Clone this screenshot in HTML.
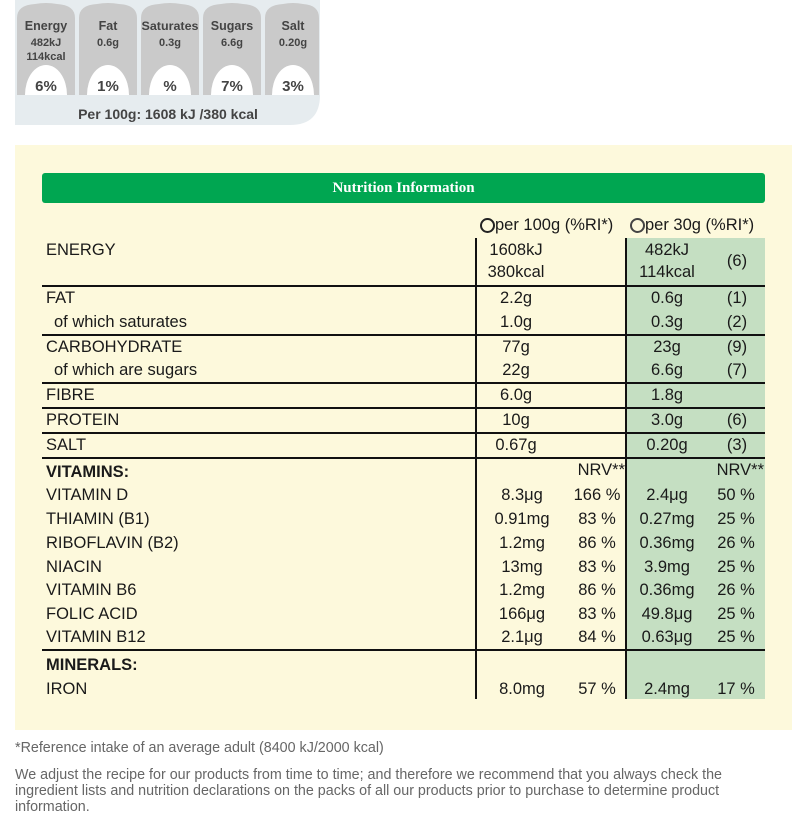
<!DOCTYPE html>
<html><head><meta charset="utf-8"><style>
body{margin:0;width:798px;height:827px;background:#fff;position:relative;overflow:hidden;font-family:"Liberation Sans","DejaVu Sans",sans-serif;color:#1a1a1a}
.a{position:absolute;white-space:nowrap;font-size:16.5px;line-height:20px}
.c{width:100px;text-align:center}
.r{text-align:right}
.hl{position:absolute;left:42px;width:723px;height:1.5px;background:#111}
.ft{position:absolute;left:15px;font-size:14.3px;color:#666;line-height:16px;white-space:nowrap}
</style></head><body>
<svg style="position:absolute;left:0;top:0" width="330" height="130">
<path d="M15 0 H320 V95 Q320 125 290 125 H15 Z" fill="#e6ecef"/>
<g fill="#cacaca">
<path d="M17 18 Q17 5 35 4 Q46 2 57 4 Q75 5 75 18 V95 H17 Z"/>
<path d="M79 18 Q79 5 97 4 Q108 2 119 4 Q137 5 137 18 V95 H79 Z"/>
<path d="M141 18 Q141 5 159 4 Q170 2 181 4 Q199 5 199 18 V95 H141 Z"/>
<path d="M203 18 Q203 5 221 4 Q232 2 243 4 Q261 5 261 18 V95 H203 Z"/>
<path d="M265 18 Q265 5 283 4 Q293 2 303 4 Q319 5 319 18 V95 H265 Z"/>
</g>
<g fill="#fff">
<path d="M25 95 A21 30 0 0 1 67 95 Z"/><path d="M87 95 A21 30 0 0 1 129 95 Z"/>
<path d="M149 95 A21 30 0 0 1 191 95 Z"/><path d="M211 95 A21 30 0 0 1 253 95 Z"/>
<path d="M272 95 A21 30 0 0 1 314 95 Z"/>
</g>
<g font-family="Liberation Sans,sans-serif" fill="#444" text-anchor="middle" font-weight="bold">
<text x="46" y="30" font-size="12.5">Energy</text><text x="46" y="46" font-size="11">482kJ</text><text x="46" y="60" font-size="11">114kcal</text>
<text x="108" y="30" font-size="12.5">Fat</text><text x="108" y="46" font-size="11">0.6g</text>
<text x="170" y="30" font-size="12" textLength="57" lengthAdjust="spacingAndGlyphs">Saturates</text><text x="170" y="46" font-size="11">0.3g</text>
<text x="232" y="30" font-size="12.5">Sugars</text><text x="232" y="46" font-size="11">6.6g</text>
<text x="293" y="30" font-size="12.5">Salt</text><text x="293" y="46" font-size="11">0.20g</text>
<g font-size="15"><text x="46" y="91">6%</text><text x="108" y="91">1%</text><text x="170" y="91">%</text><text x="232" y="91">7%</text><text x="293" y="91">3%</text></g>
<text x="168" y="119" font-size="14">Per 100g: 1608 kJ /380 kcal</text>
</g>
</svg>
<div style="position:absolute;left:15px;top:145px;width:777px;height:585px;background:#fdf9dc"></div>
<div style="position:absolute;left:42px;top:173px;width:723px;height:30px;background:#00a651;border-radius:3px;color:#fff;font-weight:bold;font-size:15px;line-height:30px;text-align:center;font-family:'Liberation Serif',serif">Nutrition Information</div>
<div style="position:absolute;left:626px;top:238px;width:139px;height:461px;background:#c5dfc2"></div>
<div style="position:absolute;left:475px;top:238px;width:1.5px;height:461px;background:#111"></div>
<div style="position:absolute;left:625px;top:238px;width:1.5px;height:461px;background:#111"></div>
<div class="hl" style="top:285px"></div><div class="hl" style="top:334px"></div><div class="hl" style="top:382px"></div>
<div class="hl" style="top:407px"></div><div class="hl" style="top:432px"></div><div class="hl" style="top:457px"></div>
<div class="hl" style="top:649px"></div>
<div style="position:absolute;left:480px;top:218px;width:11px;height:11px;border:2px solid #222;border-radius:50%"></div>
<div style="position:absolute;left:630px;top:218px;width:11px;height:11px;border:2px solid #444;border-radius:50%"></div>
<div class="a" style="left:495px;top:215px">per 100g (%RI*)</div>
<div class="a" style="left:645px;top:215px">per 30g (%RI*)</div>

<div class="a" style="left:46px;top:240px">ENERGY</div>
<div class="a c" style="left:466px;top:240px">1608kJ</div><div class="a c" style="left:466px;top:262px">380kcal</div>
<div class="a c" style="left:617px;top:240px">482kJ</div><div class="a c" style="left:617px;top:262px">114kcal</div>
<div class="a c" style="left:687px;top:251px">(6)</div>

<div class="a" style="left:46px;top:288px">FAT</div><div class="a c" style="left:466px;top:288px">2.2g</div><div class="a c" style="left:617px;top:288px">0.6g</div><div class="a c" style="left:687px;top:288px">(1)</div>
<div class="a" style="left:54px;top:312px">of which saturates</div><div class="a c" style="left:466px;top:312px">1.0g</div><div class="a c" style="left:617px;top:312px">0.3g</div><div class="a c" style="left:687px;top:312px">(2)</div>
<div class="a" style="left:46px;top:337px">CARBOHYDRATE</div><div class="a c" style="left:466px;top:337px">77g</div><div class="a c" style="left:617px;top:337px">23g</div><div class="a c" style="left:687px;top:337px">(9)</div>
<div class="a" style="left:54px;top:360px">of which are sugars</div><div class="a c" style="left:466px;top:360px">22g</div><div class="a c" style="left:617px;top:360px">6.6g</div><div class="a c" style="left:687px;top:360px">(7)</div>
<div class="a" style="left:46px;top:385px">FIBRE</div><div class="a c" style="left:466px;top:385px">6.0g</div><div class="a c" style="left:617px;top:385px">1.8g</div>
<div class="a" style="left:46px;top:410px">PROTEIN</div><div class="a c" style="left:466px;top:410px">10g</div><div class="a c" style="left:617px;top:410px">3.0g</div><div class="a c" style="left:687px;top:410px">(6)</div>
<div class="a" style="left:46px;top:435px">SALT</div><div class="a c" style="left:466px;top:435px">0.67g</div><div class="a c" style="left:617px;top:435px">0.20g</div><div class="a c" style="left:687px;top:435px">(3)</div>

<div class="a" style="left:46px;top:462px;font-weight:bold">VITAMINS:</div>
<div class="a r" style="left:525px;width:100px;top:460px">NRV**</div>
<div class="a r" style="left:664px;width:100px;top:460px">NRV**</div>

<div class="a" style="left:46px;top:485px">VITAMIN D</div><div class="a c" style="left:472px;top:485px">8.3μg</div><div class="a c" style="left:547px;top:485px">166 %</div><div class="a c" style="left:617px;top:485px">2.4μg</div><div class="a c" style="left:686px;top:485px">50 %</div>
<div class="a" style="left:46px;top:509px">THIAMIN (B1)</div><div class="a c" style="left:472px;top:509px">0.91mg</div><div class="a c" style="left:547px;top:509px">83 %</div><div class="a c" style="left:617px;top:509px">0.27mg</div><div class="a c" style="left:686px;top:509px">25 %</div>
<div class="a" style="left:46px;top:533px">RIBOFLAVIN (B2)</div><div class="a c" style="left:472px;top:533px">1.2mg</div><div class="a c" style="left:547px;top:533px">86 %</div><div class="a c" style="left:617px;top:533px">0.36mg</div><div class="a c" style="left:686px;top:533px">26 %</div>
<div class="a" style="left:46px;top:557px">NIACIN</div><div class="a c" style="left:472px;top:557px">13mg</div><div class="a c" style="left:547px;top:557px">83 %</div><div class="a c" style="left:617px;top:557px">3.9mg</div><div class="a c" style="left:686px;top:557px">25 %</div>
<div class="a" style="left:46px;top:580px">VITAMIN B6</div><div class="a c" style="left:472px;top:580px">1.2mg</div><div class="a c" style="left:547px;top:580px">86 %</div><div class="a c" style="left:617px;top:580px">0.36mg</div><div class="a c" style="left:686px;top:580px">26 %</div>
<div class="a" style="left:46px;top:604px">FOLIC ACID</div><div class="a c" style="left:472px;top:604px">166μg</div><div class="a c" style="left:547px;top:604px">83 %</div><div class="a c" style="left:617px;top:604px">49.8μg</div><div class="a c" style="left:686px;top:604px">25 %</div>
<div class="a" style="left:46px;top:627px">VITAMIN B12</div><div class="a c" style="left:472px;top:627px">2.1μg</div><div class="a c" style="left:547px;top:627px">84 %</div><div class="a c" style="left:617px;top:627px">0.63μg</div><div class="a c" style="left:686px;top:627px">25 %</div>

<div class="a" style="left:46px;top:655px;font-weight:bold">MINERALS:</div>
<div class="a" style="left:46px;top:679px">IRON</div><div class="a c" style="left:472px;top:679px">8.0mg</div><div class="a c" style="left:547px;top:679px">57 %</div><div class="a c" style="left:617px;top:679px">2.4mg</div><div class="a c" style="left:686px;top:679px">17 %</div>

<div class="ft" style="top:740px">*Reference intake of an average adult (8400 kJ/2000 kcal)</div>
<div class="ft" style="top:767px">We adjust the recipe for our products from time to time; and therefore we recommend that you always check the<br>ingredient lists and nutrition declarations on the packs of all our products prior to purchase to determine product<br>information.</div>
</body></html>
